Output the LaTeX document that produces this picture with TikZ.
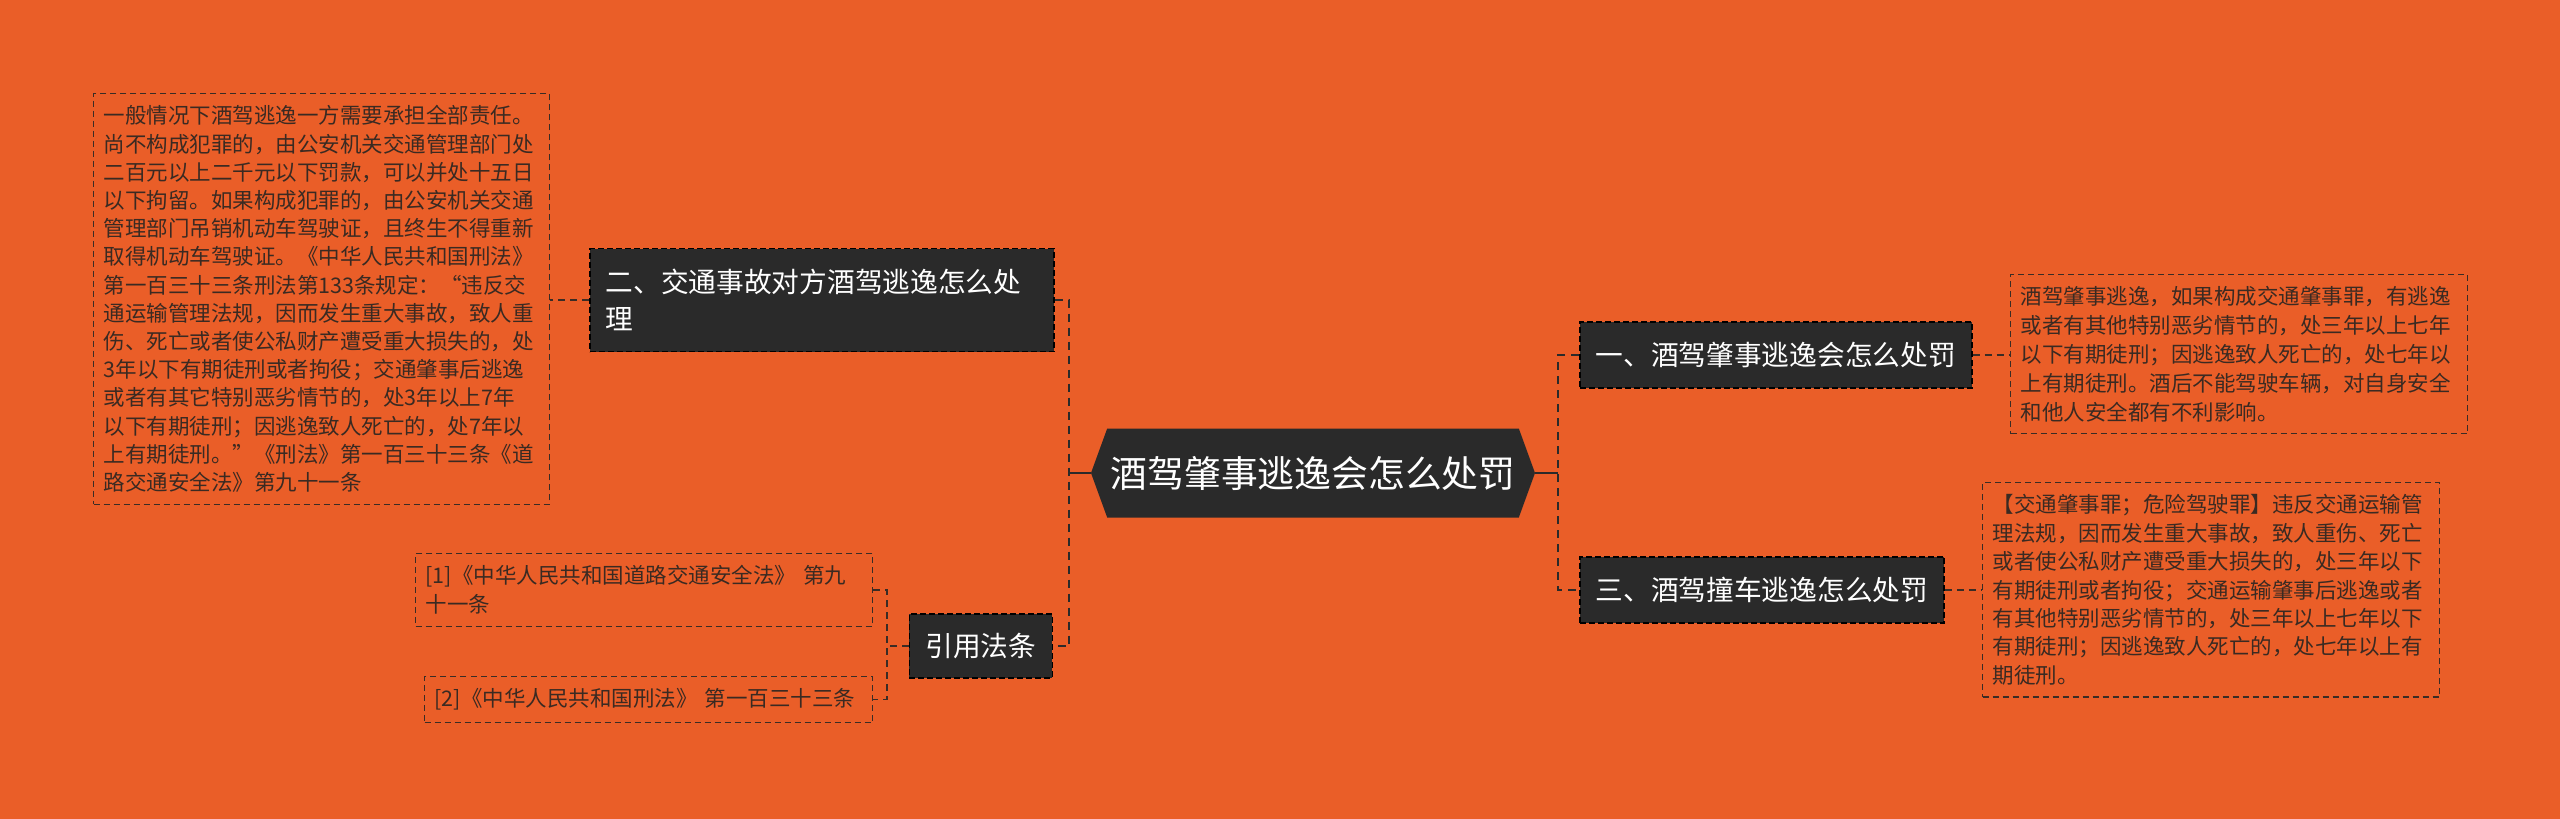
\documentclass[tikz,border=0pt]{standalone}
\usepackage{fontspec}
\setmainfont{Noto Sans CJK SC}
\usetikzlibrary{shapes.symbols}
\definecolor{bg}{HTML}{EA5E28}
\definecolor{dark}{HTML}{2A2A2A}
\definecolor{leaftext}{HTML}{3A2A22}
\definecolor{leafborder}{HTML}{3A2C25}
\begin{document}
\begin{tikzpicture}[x=1pt,y=1pt,
  leafbox/.style={draw=leafborder, dash pattern=on 6pt off 4pt, line width=1.3pt, text=leaftext,
    align=left, inner xsep=10pt, inner ysep=12pt, anchor=north west},
  leaffont/.style={font=\fontsize{21.5}{#1}\selectfont},
  branchbox/.style={fill=dark, draw=black, dash pattern=on 6pt off 3pt, line width=1.5pt,
    text=white, inner xsep=16pt, inner ysep=0pt, minimum height=66pt,
    font=\fontsize{27.7}{37.5}\selectfont},
  hexnode/.style={shape=signal, signal to=east and west, signal pointer angle=140,
    fill=dark, text=white, minimum width=444pt, minimum height=89pt, inner xsep=0pt,
    font=\fontsize{36.8}{40}\selectfont},
  solidlink/.style={draw=dark, line width=2.5pt},
  mainlink/.style={draw=dark, line width=2.5pt, dash pattern=on 8pt off 6pt},
  leaflink/.style={draw=leafborder, line width=1.5pt, dash pattern=on 7pt off 5pt}
]
\useasboundingbox (0,0) rectangle (2560,-819);
\fill[bg] (0,0) rectangle (2560,-819);

% center
\node[hexnode] (c) at (1313,-473) {酒驾肇事逃逸会怎么处罚};

% branches
\node[branchbox, anchor=west] (b1) at (1579,-355) {一、酒驾肇事逃逸会怎么处罚};
\node[branchbox, anchor=west] (b3) at (1579,-590) {三、酒驾撞车逃逸怎么处罚};
\node[branchbox, anchor=west, align=left, text width=432pt, minimum height=103pt] (b2) at (589,-300)
  {二、交通事故对方酒驾逃逸怎么处\\理};
\node[branchbox, anchor=east, minimum height=64pt] (ref) at (1053,-646) {引用法条};

% leaves
\node[leafbox, leaffont=28.8, text width=437pt] (l1) at (2010,-274)
  {酒驾肇事逃逸，如果构成交通肇事罪，有逃逸\\
或者有其他特别恶劣情节的，处三年以上七年\\
以下有期徒刑；因逃逸致人死亡的，处七年以\\
上有期徒刑。酒后不能驾驶车辆，对自身安全\\
和他人安全都有不利影响。};

\node[leafbox, leaffont=28.4, text width=437pt] (l3) at (1982,-482)
  {【交通肇事罪；危险驾驶罪】违反交通运输管\\
理法规，因而发生重大事故，致人重伤、死亡\\
或者使公私财产遭受重大损失的，处三年以下\\
有期徒刑或者拘役；交通运输肇事后逃逸或者\\
有其他特别恶劣情节的，处三年以上七年以下\\
有期徒刑；因逃逸致人死亡的，处七年以上有\\
期徒刑。};

\node[leafbox, leaffont=28.2, text width=436pt] (l2) at (93,-93)
  {一般情况下酒驾逃逸一方需要承担全部责任。\\
尚不构成犯罪的，由公安机关交通管理部门处\\
二百元以上二千元以下罚款，可以并处十五日\\
以下拘留。如果构成犯罪的，由公安机关交通\\
管理部门吊销机动车驾驶证，且终生不得重新\\
取得机动车驾驶证。《中华人民共和国刑法》\\
第一百三十三条刑法第133条规定：“违反交\\
通运输管理法规，因而发生重大事故，致人重\\
伤、死亡或者使公私财产遭受重大损失的，处\\
3年以下有期徒刑或者拘役；交通肇事后逃逸\\
或者有其它特别恶劣情节的，处3年以上7年\\
以下有期徒刑；因逃逸致人死亡的，处7年以\\
上有期徒刑。”《刑法》第一百三十三条《道\\
路交通安全法》第九十一条};

\node[leafbox, leaffont=28.8, text width=437pt] (r1) at (415,-553)
  {[1]《中华人民共和国道路交通安全法》 第九\\十一条};
\node[leafbox, leaffont=28.4, text width=428pt] (r2) at (424,-676)
  {[2]《中华人民共和国刑法》 第一百三十三条};

% junctions
\coordinate (rj) at (1558,-473);
\coordinate (lj) at (1069,-473);
\coordinate (rfj) at (887,-646);

% connectors
\draw[solidlink] (c.east) -- (rj);
\draw[mainlink] (b1.west) -- (b1.west -| rj) -- (b3.west -| rj) -- (b3.west);
\draw[solidlink] (c.west) -- (lj);
\draw[mainlink] (b2.east) -- (b2.east -| lj) -- (ref.east -| lj) -- (ref.east);

\draw[leaflink] (b1.east) -- (b1.east -| l1.west);
\draw[leaflink] (b3.east) -- (b3.east -| l3.west);
\draw[leaflink] (b2.west) -- (b2.west -| l2.east);
\draw[leaflink] (ref.west) -- (rfj);
\draw[leaflink] (r1.east) -- (r1.east -| rfj) -- (r2.east -| rfj) -- (r2.east);
\end{tikzpicture}
\end{document}
